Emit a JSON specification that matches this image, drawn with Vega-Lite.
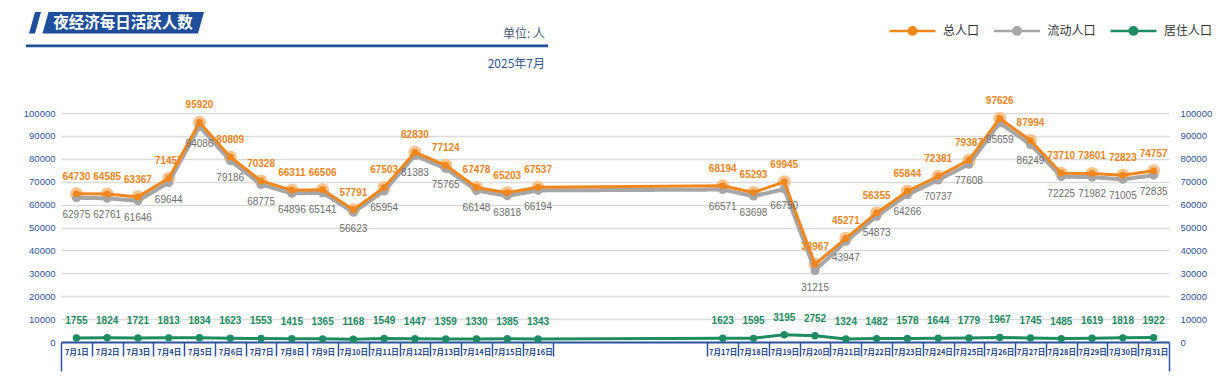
{
  "$schema": "https://vega.github.io/schema/vega-lite/v6.json",
  "autosize": {"type": "none"},
  "padding": {"left": 61, "top": 113, "right": 60, "bottom": 45},
  "width": 1108,
  "height": 229,
  "background": "white",
  "title": {
    "text": "单位: 人",
    "subtitle": "2025年7月",
    "anchor": "start",
    "frame": "group",
    "align": "right",
    "dx": 484,
    "offset": -148,
    "font": "Noto Sans CJK SC",
    "fontSize": 12,
    "fontWeight": "normal",
    "color": "#4A5A7C",
    "subtitleFont": "Noto Sans CJK SC",
    "subtitleFontSize": 12,
    "subtitleColor": "#2F5597",
    "subtitlePadding": 18
  },
  "data": {
    "values": [
      {"日期": "7月1日", "总人口": 64730, "流动人口": 62975, "居住人口": 1755},
      {"日期": "7月2日", "总人口": 64585, "流动人口": 62761, "居住人口": 1824},
      {"日期": "7月3日", "总人口": 63367, "流动人口": 61646, "居住人口": 1721},
      {"日期": "7月4日", "总人口": 71457, "流动人口": 69644, "居住人口": 1813},
      {"日期": "7月5日", "总人口": 95920, "流动人口": 94086, "居住人口": 1834},
      {"日期": "7月6日", "总人口": 80809, "流动人口": 79186, "居住人口": 1623},
      {"日期": "7月7日", "总人口": 70328, "流动人口": 68775, "居住人口": 1553},
      {"日期": "7月8日", "总人口": 66311, "流动人口": 64896, "居住人口": 1415},
      {"日期": "7月9日", "总人口": 66506, "流动人口": 65141, "居住人口": 1365},
      {"日期": "7月10日", "总人口": 57791, "流动人口": 56623, "居住人口": 1168},
      {"日期": "7月11日", "总人口": 67503, "流动人口": 65954, "居住人口": 1549},
      {"日期": "7月12日", "总人口": 82830, "流动人口": 81383, "居住人口": 1447},
      {"日期": "7月13日", "总人口": 77124, "流动人口": 75765, "居住人口": 1359},
      {"日期": "7月14日", "总人口": 67478, "流动人口": 66148, "居住人口": 1330},
      {"日期": "7月15日", "总人口": 65203, "流动人口": 63818, "居住人口": 1385},
      {"日期": "7月16日", "总人口": 67537, "流动人口": 66194, "居住人口": 1343},
      {"日期": "7月17日", "总人口": 68194, "流动人口": 66571, "居住人口": 1623},
      {"日期": "7月18日", "总人口": 65293, "流动人口": 63698, "居住人口": 1595},
      {"日期": "7月19日", "总人口": 69945, "流动人口": 66750, "居住人口": 3195},
      {"日期": "7月20日", "总人口": 33967, "流动人口": 31215, "居住人口": 2752},
      {"日期": "7月21日", "总人口": 45271, "流动人口": 43947, "居住人口": 1324},
      {"日期": "7月22日", "总人口": 56355, "流动人口": 54873, "居住人口": 1482},
      {"日期": "7月23日", "总人口": 65844, "流动人口": 64266, "居住人口": 1578},
      {"日期": "7月24日", "总人口": 72381, "流动人口": 70737, "居住人口": 1644},
      {"日期": "7月25日", "总人口": 79387, "流动人口": 77608, "居住人口": 1779},
      {"日期": "7月26日", "总人口": 97626, "流动人口": 95659, "居住人口": 1967},
      {"日期": "7月27日", "总人口": 87994, "流动人口": 86249, "居住人口": 1745},
      {"日期": "7月28日", "总人口": 73710, "流动人口": 72225, "居住人口": 1485},
      {"日期": "7月29日", "总人口": 73601, "流动人口": 71982, "居住人口": 1619},
      {"日期": "7月30日", "总人口": 72823, "流动人口": 71005, "居住人口": 1818},
      {"日期": "7月31日", "总人口": 74757, "流动人口": 72835, "居住人口": 1922}
    ]
  },
  "encoding": {
    "x": {
      "field": "日期",
      "type": "nominal",
      "scale": {
        "type": "band",
        "paddingInner": 0,
        "paddingOuter": 0,
        "domain": ["7月1日","7月2日","7月3日","7月4日","7月5日","7月6日","7月7日","7月8日","7月9日","7月10日","7月11日","7月12日","7月13日","7月14日","7月15日","7月16日","g1","g2","g3","g4","g5","7月17日","7月18日","7月19日","7月20日","7月21日","7月22日","7月23日","7月24日","7月25日","7月26日","7月27日","7月28日","7月29日","7月30日","7月31日"]
      },
      "axis": {
        "title": null,
        "labelAngle": 0,
        "tickBand": "extent",
        "labelExpr": "indexof(['g1','g2','g3','g4','g5'], datum.value) >= 0 ? '' : datum.label",
        "labelOverlap": false,
        "labelBound": false,
        "labelFont": "Noto Sans CJK SC",
        "labelFontSize": 7.5,
        "labelFontWeight": "bold",
        "labelColor": "#23458F",
        "labelPadding": {"condition": {"test": "datum.value === '7月31日'", "value": -23}, "value": -8},
        "domainColor": "#2D53A0",
        "domainWidth": 2,
        "tickColor": "#2D53A0",
        "tickWidth": 1.5,
        "tickOpacity": {"condition": {"test": "indexof(['g1','g2','g3','g4'], datum.value) >= 0", "value": 0}, "value": 1},
        "tickSize": {"condition": {"test": "datum.value === '7月31日' || !datum.value", "value": 29}, "value": 14}
      }
    }
  },
  "layer": [
    {
      "mark": {"type": "point", "filled": true, "color": "#F7BC7F", "opacity": 0.9, "size": 170},
      "encoding": {
        "y": {
          "field": "总人口", "type": "quantitative",
          "scale": {"domain": [0, 100000], "nice": false},
          "axis": {"title": null, "orient": "left", "format": "d", "values": [0,10000,20000,30000,40000,50000,60000,70000,80000,90000,100000], "domain": false, "ticks": false, "labelColor": "#2D53A0", "labelFont": "Liberation Sans", "labelFontSize": 9.5, "labelPadding": 6, "grid": true, "gridColor": "#DBDBDB", "gridWidth": 1.6}
        }
      }
    },
    {
      "mark": {"type": "line", "strokeWidth": 4},
      "encoding": {
        "y": {
          "field": "流动人口", "type": "quantitative",
          "axis": {"title": null, "orient": "right", "format": "d", "values": [0,10000,20000,30000,40000,50000,60000,70000,80000,90000,100000], "domain": false, "ticks": false, "labelColor": "#2D53A0", "labelFont": "Liberation Sans", "labelFontSize": 9.5, "labelPadding": 11, "grid": false}
        },
        "color": {"datum": "流动人口", "scale": {"domain": ["总人口","流动人口","居住人口"], "range": ["#F0861C","#A6A6A6","#1E8C63"]}},
        "strokeDash": {
          "datum": "夜经济每日活跃人数",
          "type": "nominal",
          "scale": {"range": [[1, 0]]},
          "legend": {
            "orient": "none",
            "legendX": -35,
            "legendY": -190,
            "title": null,
            "padding": 0,
            "symbolType": "M-0.91,-0.11L-0.85,-0.11L-0.91,0.105L-0.97,0.105Z M-0.775,-0.11L0.78,-0.11L0.72,0.105L-0.835,0.105Z M-1,0.215L4.22,0.215L4.22,0.243L-1,0.243Z",
            "symbolSize": 40000,
            "symbolStrokeWidth": 0,
            "symbolFillColor": "#1F4E9A",
            "symbolStrokeColor": "#1F4E9A",
            "labelFont": "Noto Sans CJK SC",
            "labelFontSize": 15.5,
            "labelFontWeight": "bold",
            "labelColor": "white",
            "labelOffset": -172.7,
            "labelLimit": 400,
            "encode": {"symbols": {"update": {"fill": {"value": "#1F4E9A"}, "stroke": {"value": "#1F4E9A"}, "strokeWidth": {"value": 0}, "opacity": {"value": 1}}}}
          }
        }
      }
    },
    {
      "mark": {"type": "point", "filled": true, "size": 80, "opacity": 1},
      "encoding": {
        "y": {"field": "流动人口", "type": "quantitative", "axis": null},
        "color": {"datum": "流动人口", "scale": {"domain": ["总人口","流动人口","居住人口"], "range": ["#F0861C","#A6A6A6","#1E8C63"]}}
      }
    },
    {
      "mark": {"type": "line", "strokeWidth": 3},
      "encoding": {
        "y": {"field": "总人口", "type": "quantitative", "axis": null},
        "color": {
          "datum": "总人口",
          "scale": {"domain": ["总人口","流动人口","居住人口"], "range": ["#F0861C","#A6A6A6","#1E8C63"]},
          "legend": {
            "orient": "none",
            "legendX": 827,
            "legendY": -107,
            "direction": "horizontal",
            "gridAlign": "each",
            "title": null,
            "padding": 0,
            "symbolType": "M-1,0H1M0.16,0A0.16,0.16,0,1,1,-0.16,0A0.16,0.16,0,1,1,0.16,0Z",
            "symbolSize": 2116,
            "symbolStrokeWidth": 2.5,
            "labelFont": "Noto Sans CJK SC",
            "labelFontSize": 12,
            "labelColor": "#333333",
            "labelOffset": 6,
            "columnPadding": 8.5,
            "encode": {"symbols": {"update": {"fill": {"scale": "color", "field": "value"}, "stroke": {"scale": "color", "field": "value"}, "opacity": {"value": 1}}}}
          }
        }
      }
    },
    {
      "mark": {"type": "point", "filled": true, "size": 45, "opacity": 1},
      "encoding": {
        "y": {"field": "总人口", "type": "quantitative", "axis": null},
        "color": {"datum": "总人口", "scale": {"domain": ["总人口","流动人口","居住人口"], "range": ["#F0861C","#A6A6A6","#1E8C63"]}}
      }
    },
    {
      "mark": {"type": "line", "strokeWidth": 3},
      "encoding": {
        "y": {"field": "居住人口", "type": "quantitative", "axis": null},
        "color": {"datum": "居住人口", "scale": {"domain": ["总人口","流动人口","居住人口"], "range": ["#F0861C","#A6A6A6","#1E8C63"]}}
      }
    },
    {
      "mark": {"type": "point", "filled": true, "size": 55, "opacity": 1},
      "encoding": {
        "y": {"field": "居住人口", "type": "quantitative", "axis": null},
        "color": {"datum": "居住人口", "scale": {"domain": ["总人口","流动人口","居住人口"], "range": ["#F0861C","#A6A6A6","#1E8C63"]}}
      }
    },
    {
      "mark": {"type": "text", "dy": -17, "font": "Liberation Sans", "fontSize": 10, "fontWeight": "bold", "color": "#F0861C"},
      "encoding": {
        "y": {"field": "总人口", "type": "quantitative", "axis": null},
        "text": {"field": "总人口", "type": "quantitative", "format": "d"}
      }
    },
    {
      "mark": {"type": "text", "dy": 17, "font": "Liberation Sans", "fontSize": 10, "color": "#6E6E6E"},
      "encoding": {
        "y": {"field": "流动人口", "type": "quantitative", "axis": null},
        "text": {"field": "流动人口", "type": "quantitative", "format": "d"}
      }
    },
    {
      "mark": {"type": "text", "dy": -17, "font": "Liberation Sans", "fontSize": 10, "fontWeight": "bold", "color": "#1E8C63"},
      "encoding": {
        "y": {"field": "居住人口", "type": "quantitative", "axis": null},
        "text": {"field": "居住人口", "type": "quantitative", "format": "d"}
      }
    }
  ],
  "resolve": {"axis": {"y": "independent"}},
  "config": {
    "view": {"stroke": null},
    "font": "Liberation Sans"
  }
}
